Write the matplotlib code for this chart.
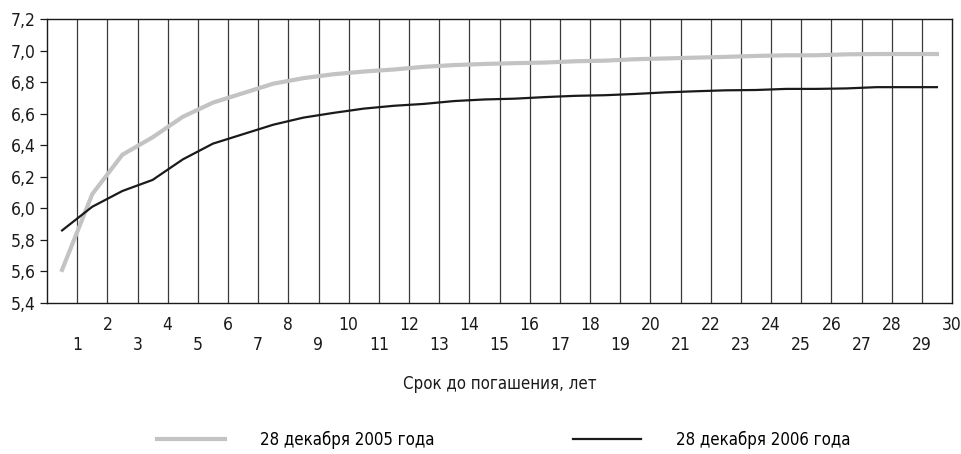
import matplotlib
matplotlib.use("Agg")
import matplotlib.pyplot as plt
from matplotlib import font_manager
from matplotlib.ft2font import FT2Font
from matplotlib.ticker import FixedLocator, FixedFormatter


def has_cyrillic(path):
    try:
        cmap = FT2Font(path).get_charmap()
        return all(ord(c) in cmap for c in 'СрокдпгашенияеткбяЛ')
    except Exception:
        return False


STRETCH_RANK = {'condensed': 0, '300': 0, 300: 0, 'semi-condensed': 1, '400': 1, 400: 1,
                'extra-condensed': 2, '200': 2, 200: 2}

candidates = []
for f in font_manager.fontManager.ttflist:
    n = f.name
    st = f.stretch
    named = ('Narrow' in n or 'Condensed' in n)
    if (named or st in STRETCH_RANK) and f.style == 'normal' \
            and f.weight in (400, 'normal', 'regular') and has_cyrillic(f.fname):
        rank = STRETCH_RANK.get(st, 0 if named else 5)
        candidates.append((rank, n, st))
candidates.sort(key=lambda t: t[0])

if candidates:
    _, narrow_name, narrow_stretch = candidates[0]
    plt.rcParams['font.family'] = [narrow_name, 'Liberation Sans', 'DejaVu Sans']
    if narrow_stretch in STRETCH_RANK:
        plt.rcParams['font.stretch'] = narrow_stretch
else:
    plt.rcParams['font.family'] = ['Liberation Sans', 'DejaVu Sans']

# Data: maturity (years) and yields (%)
maturity = [0.5, 1.5, 2.5, 3.5, 4.5, 5.5, 6.5, 7.5, 8.5, 9.5,
            10.5, 11.5, 12.5, 13.5, 14.5, 15.5, 16.5, 17.5, 18.5, 19.5,
            20.5, 21.5, 22.5, 23.5, 24.5, 25.5, 26.5, 27.5, 28.5, 29.5]
yield_2005 = [5.61, 6.09, 6.34, 6.45, 6.58, 6.67, 6.73, 6.79, 6.825, 6.85,
              6.867, 6.88, 6.897, 6.908, 6.915, 6.92, 6.924, 6.932, 6.936, 6.945,
              6.95, 6.955, 6.96, 6.966, 6.97, 6.97, 6.976, 6.978, 6.978, 6.978]
yield_2006 = [5.86, 6.01, 6.11, 6.18, 6.31, 6.41, 6.47, 6.53, 6.575, 6.605,
              6.632, 6.65, 6.662, 6.68, 6.69, 6.695, 6.705, 6.713, 6.717, 6.725,
              6.735, 6.742, 6.748, 6.75, 6.757, 6.757, 6.76, 6.768, 6.768, 6.768]
series_labels = ['28 декабря 2005 года', '28 декабря 2006 года']
x_label = 'Срок до погашения, лет'
y_ticks = [5.4, 5.6, 5.8, 6.0, 6.2, 6.4, 6.6, 6.8, 7.0, 7.2]
y_tick_labels = ['5,4', '5,6', '5,8', '6,0', '6,2', '6,4', '6,6', '6,8', '7,0', '7,2']
x_even = list(range(2, 31, 2))
x_odd = list(range(1, 30, 2))

fig = plt.figure(figsize=(9.61, 4.54), dpi=100)

# choose a font size so the legend text is about as wide as in the reference (~175 px)
renderer = fig.canvas.get_renderer()
probe = fig.text(0, 0, series_labels[0], fontsize=10)
w10 = probe.get_window_extent(renderer).width
probe.remove()
fs = max(11.0, min(14.5, 10 * 175.0 / w10))

ax = fig.add_axes([47/961, 1-303/454, (952-47)/961, (303-19)/454])

# vertical grid lines
for xv in range(1, 30):
    ax.axvline(xv, color='#3a3a3a', lw=0.9, zorder=1)

ax.plot(maturity, yield_2005, color='#c3c3c3', lw=3.0, label=series_labels[0],
        zorder=3, solid_joinstyle='round')
ax.plot(maturity, yield_2006, color='#1a1a1a', lw=1.6, label=series_labels[1],
        zorder=4, solid_joinstyle='round')

ax.set_xlim(0, 30)
ax.set_ylim(5.4, 7.2)

ax.yaxis.set_major_locator(FixedLocator(y_ticks))
ax.yaxis.set_major_formatter(FixedFormatter(y_tick_labels))
ax.tick_params(axis='y', which='major', direction='out', length=5, width=0.9,
               pad=3, labelsize=fs + 0.5, colors='#1a1a1a')

ax.xaxis.set_major_locator(FixedLocator(x_even))
ax.xaxis.set_major_formatter(FixedFormatter([str(v) for v in x_even]))
ax.xaxis.set_minor_locator(FixedLocator(x_odd))
ax.xaxis.set_minor_formatter(FixedFormatter([str(v) for v in x_odd]))
ax.tick_params(axis='x', which='major', length=0, pad=9, labelsize=fs + 0.5, colors='#1a1a1a')
ax.tick_params(axis='x', which='minor', length=0, pad=24, labelsize=fs + 0.5, colors='#1a1a1a')

for s in ax.spines.values():
    s.set_color('#1a1a1a')
    s.set_linewidth(1.0)

ax.set_xlabel(x_label, fontsize=fs, labelpad=15, color='#1a1a1a')

leg = fig.legend(loc='center', bbox_to_anchor=(504/961, 14/454), ncol=2, frameon=False,
                 fontsize=fs, handlelength=3.6 * 13.5 / fs, handletextpad=1.9 * 13.5 / fs,
                 columnspacing=7.4 * 13.5 / fs)

fig.savefig('out.png', dpi=100)
